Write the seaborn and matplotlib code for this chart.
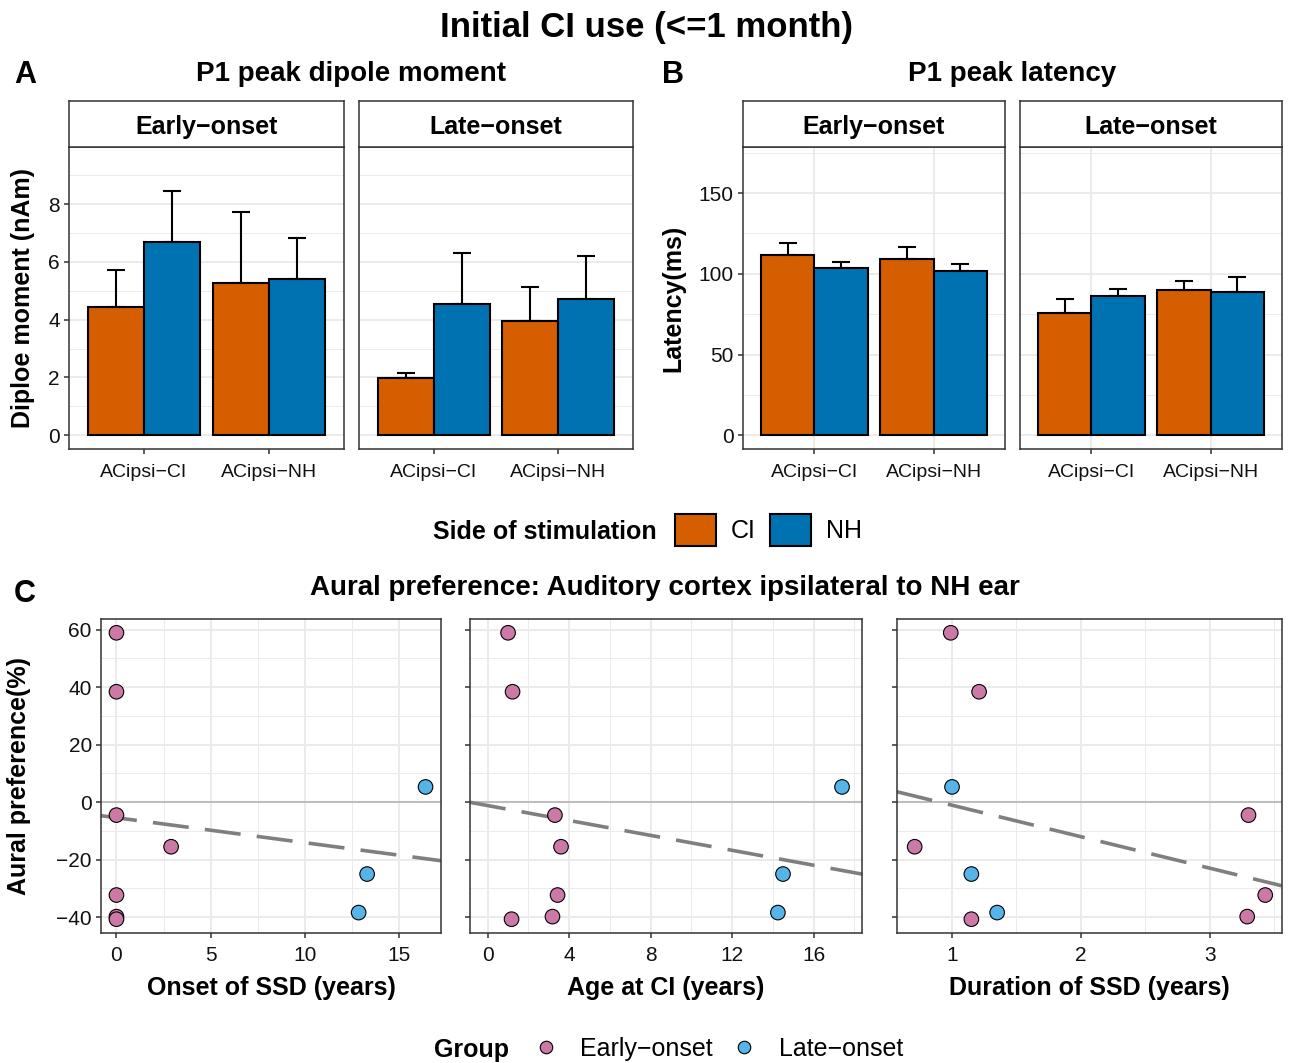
import matplotlib
matplotlib.use("Agg")
import matplotlib.pyplot as plt
from matplotlib.patches import Patch
from matplotlib.lines import Line2D
from matplotlib.ticker import MultipleLocator
import numpy as np
import pandas as pd
import seaborn as sns

sns.set_theme(style="white")
plt.rcParams["font.family"] = ["Liberation Sans", "DejaVu Sans"]
plt.rcParams["text.color"] = "black"
plt.rcParams["axes.labelcolor"] = "black"

W, H = 1290, 1063

# ---- bar panels (A, B) ----
onset_groups = ["Early\u2212onset", "Late\u2212onset"]
ac_sides = ["ACipsi\u2212CI", "ACipsi\u2212NH"]
stim_sides = ["CI", "NH"]
stim_colors = ["#D55E00", "#0072B2"]

# order: group -> AC side -> stimulated side
dipole_mean = [4.43, 6.68, 5.26, 5.41, 1.98, 4.53, 3.95, 4.72]
dipole_upper = [5.72, 8.44, 7.74, 6.82, 2.17, 6.29, 5.13, 6.20]
latency_mean = [111.5, 103.5, 109.2, 101.6, 75.5, 86.5, 90.0, 89.0]
latency_upper = [119.0, 107.4, 116.7, 106.3, 84.4, 90.8, 95.8, 98.0]

# ---- scatter panel (C) ----
subject_group = ["Early\u2212onset"] * 7 + ["Late\u2212onset"] * 3
aural_pref = [58.9, 38.4, -4.5, -15.5, -32.3, -39.8, -40.7, 5.3, -25.0, -38.4]
onset_ssd = [0, 0, 0, 2.9, 0, 0, 0, 16.4, 13.3, 12.85]
age_at_ci = [1.0, 1.22, 3.3, 3.6, 3.43, 3.18, 1.17, 17.4, 14.5, 14.25]
duration_ssd = [0.99, 1.21, 3.30, 0.71, 3.43, 3.29, 1.15, 1.0, 1.15, 1.35]
group_colors = ["#CC79A7", "#56B4E9"]

rows = [(g, s, st) for g in onset_groups for s in ac_sides for st in stim_sides]
bars = pd.DataFrame(rows, columns=["group", "side", "stim"])
bars["dipole"] = dipole_mean
bars["dipole_hi"] = dipole_upper
bars["latency"] = latency_mean
bars["latency_hi"] = latency_upper

scat = pd.DataFrame({"group": subject_group, "pref": aural_pref,
                     "onset": onset_ssd, "age": age_at_ci, "dur": duration_ssd})

GRID = "#EBEBEB"
DARK = "#333333"
TICK_FS = 15
LAB_FS = 18


def px_rect(l, t, r, b):
    return [l / W, 1 - b / H, (r - l) / W, (b - t) / H]


def fy(y):
    # pixel row -> figure fraction
    return 1 - y / H


def style_panel(ax):
    ax.set_facecolor("white")
    for s in ax.spines.values():
        s.set_visible(True)
        s.set_color(DARK)
        s.set_linewidth(1.1)
    ax.tick_params(which="major", length=3.6, width=1.1, color=DARK,
                   labelsize=TICK_FS, labelcolor="#111111", pad=3,
                   bottom=True, left=True)
    ax.tick_params(which="minor", length=0)
    ax.set_axisbelow(True)


def add_strip(fig, rect, label):
    sax = fig.add_axes(rect)
    sax.set_facecolor("white")
    sax.set_xticks([])
    sax.set_yticks([])
    for s in sax.spines.values():
        s.set_visible(True)
        s.set_color(DARK)
        s.set_linewidth(1.1)
    sax.text(0.5, 0.44, label, ha="center", va="center", fontsize=LAB_FS,
             fontweight="bold", transform=sax.transAxes)


def bar_facet(ax, sub, col, ylim, major, minor, show_y, xgrid):
    style_panel(ax)
    sns.barplot(data=sub, x="side", y=col, hue="stim", order=ac_sides,
                hue_order=stim_sides, palette=stim_colors, saturation=1,
                width=0.9, gap=0, edgecolor="black", linewidth=1.5,
                errorbar=None, legend=False, ax=ax)
    for p in ax.patches:
        h = p.get_height()
        row = sub[np.isclose(sub[col], h)]
        if len(row) == 0:
            continue
        hi = row[col + "_hi"].iloc[0]
        xc = p.get_x() + p.get_width() / 2
        ax.errorbar([xc], [h], yerr=[[0], [hi - h]], fmt="none",
                    ecolor="black", elinewidth=1.5, capsize=6.5,
                    capthick=1.5, zorder=4)
    ax.set_xlim(-0.6, 1.6)
    ax.set_ylim(*ylim)
    ax.yaxis.set_major_locator(MultipleLocator(major))
    ax.yaxis.set_minor_locator(MultipleLocator(minor))
    ax.grid(True, which="major", axis="y", color=GRID, lw=1.4)
    ax.grid(True, which="minor", axis="y", color=GRID, lw=0.7)
    if xgrid:
        ax.grid(True, which="major", axis="x", color=GRID, lw=1.4)
    ax.set_xlabel("")
    ax.set_ylabel("")
    ax.tick_params(axis="x", labelsize=14, pad=7)
    if not show_y:
        ax.tick_params(axis="y", left=False, labelleft=False)


fig = plt.figure(figsize=(W / 100, H / 100), dpi=100)

# titles
fig.text(0.5 + 2 / W, fy(28), "Initial CI use (<=1 month)", ha="center",
         va="center", fontsize=25, fontweight="bold")
fig.text(25 / W, fy(75), "A", ha="center", va="center", fontsize=22, fontweight="bold")
fig.text(673 / W, fy(75), "B", ha="center", va="center", fontsize=22, fontweight="bold")
fig.text(25 / W, fy(594), "C", ha="center", va="center", fontsize=22, fontweight="bold")
fig.text(351 / W, fy(74), "P1 peak dipole moment", ha="center", va="center",
         fontsize=20, fontweight="bold")
fig.text(1012 / W, fy(74), "P1 peak latency", ha="center", va="center",
         fontsize=20, fontweight="bold")
fig.text(665 / W, fy(588), "Aural preference: Auditory cortex ipsilateral to NH ear",
         ha="center", va="center", fontsize=20, fontweight="bold")

# panels A and B
a_cols = [(69, 344), (359, 633)]
b_cols = [(743, 1005), (1020, 1282)]
for i, g in enumerate(onset_groups):
    sub = bars[bars["group"] == g]
    l, r = a_cols[i]
    ax = fig.add_axes(px_rect(l, 147, r, 449))
    bar_facet(ax, sub, "dipole", (-0.475, 9.975), 2, 1, i == 0, False)
    add_strip(fig, px_rect(l, 101, r, 147), g)
    l, r = b_cols[i]
    ax = fig.add_axes(px_rect(l, 147, r, 449))
    bar_facet(ax, sub, "latency", (-8.5, 178.5), 50, 25, i == 0, True)
    add_strip(fig, px_rect(l, 101, r, 147), g)

fig.text(23 / W, fy(298), "Diploe moment (nAm)", rotation=90, ha="center",
         va="center", fontsize=LAB_FS, fontweight="bold")
fig.text(673 / W, fy(298), "Latency(ms)", rotation=90, ha="center",
         va="center", fontsize=LAB_FS, fontweight="bold")

# stimulation legend
fig.text(433 / W, fy(532), "Side of stimulation", ha="left", va="center",
         fontsize=LAB_FS, fontweight="bold")
stim_handles = [Patch(facecolor=c, edgecolor="black", linewidth=1.5) for c in stim_colors]
fig.legend(stim_handles, stim_sides, loc="center left",
           bbox_to_anchor=(675 / W, fy(530)), ncol=2, frameon=False,
           fontsize=LAB_FS, handlelength=1.64, handleheight=1.64,
           handletextpad=0.6, columnspacing=0.55, borderpad=0, borderaxespad=0)

# panel C
c_specs = [
    ("onset", "Onset of SSD (years)", (101, 441), (-0.82, 17.22), 5, 2.5),
    ("age", "Age at CI (years)", (470, 862), (-0.87, 18.38), 4, 2),
    ("dur", "Duration of SSD (years)", (897, 1282), (0.573, 3.56), 1, 0.5),
]
for i, (col, xlabel, (l, r), xlim, major, minor) in enumerate(c_specs):
    ax = fig.add_axes(px_rect(l, 619, r, 933))
    style_panel(ax)
    ax.set_xlim(*xlim)
    ax.set_ylim(-45.5, 63.7)
    ax.xaxis.set_major_locator(MultipleLocator(major))
    ax.xaxis.set_minor_locator(MultipleLocator(minor))
    ax.yaxis.set_major_locator(MultipleLocator(20))
    ax.yaxis.set_minor_locator(MultipleLocator(10))
    ax.grid(True, which="major", color=GRID, lw=1.4)
    ax.grid(True, which="minor", color=GRID, lw=0.7)
    ax.axhline(0, color="#BEBEBE", lw=1.5, zorder=1)
    sns.regplot(data=scat, x=col, y="pref", scatter=False, ci=None,
                truncate=False, color="#7F7F7F",
                line_kws=dict(lw=2.6, dashes=(10, 4.5), zorder=2), ax=ax)
    sns.scatterplot(data=scat, x=col, y="pref", hue="group",
                    hue_order=onset_groups, palette=group_colors, s=110,
                    edgecolor="black", linewidth=0.8, legend=False, ax=ax,
                    zorder=3)
    ax.set_xlim(*xlim)
    ax.set_ylim(-45.5, 63.7)
    ax.set_ylabel("")
    ax.tick_params(axis="x", pad=6)
    ax.set_xlabel(xlabel, fontsize=LAB_FS, fontweight="bold", labelpad=8)
    if i > 0:
        ax.tick_params(axis="y", labelleft=False)

fig.text(19 / W, fy(776), "Aural preference(%)", rotation=90, ha="center",
         va="center", fontsize=LAB_FS, fontweight="bold")

# group legend
fig.text(434 / W, fy(1050), "Group", ha="left", va="center",
         fontsize=LAB_FS, fontweight="bold")
grp_handles = [Line2D([], [], marker="o", linestyle="none", markersize=9,
                      markerfacecolor=c, markeredgecolor="black",
                      markeredgewidth=0.8) for c in group_colors]
fig.legend(grp_handles, onset_groups, loc="center left",
           bbox_to_anchor=(533 / W, fy(1049)), ncol=2, frameon=False,
           fontsize=LAB_FS, handlelength=1.0, handletextpad=0.9,
           columnspacing=0.72, borderpad=0, borderaxespad=0)

fig.savefig("out.png", dpi=100)
